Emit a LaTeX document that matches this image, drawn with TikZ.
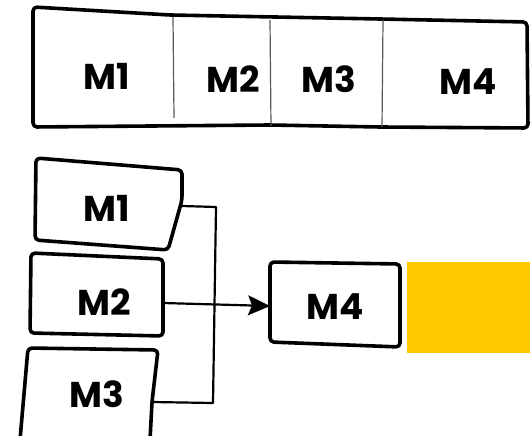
\documentclass[tikz,border=0pt]{standalone}
\usepackage{fontspec}
\setmainfont{Poppins}
\usetikzlibrary{arrows.meta}
\definecolor{gold}{HTML}{FFC800}
\tikzset{
  sketch/.style={draw=black, line width=3.6bp, line join=round, line cap=round, rounded corners=4bp},
  divider/.style={draw=black!65, line width=1.2bp},
  lbl/.style={font=\fontsize{36}{40}\selectfont\bfseries, inner sep=0pt, anchor=center},
  wire/.style={draw=black, line width=2.2bp, line join=round},
}
\begin{document}
\begin{tikzpicture}[x=1bp,y=-1bp]
\useasboundingbox (0,0) rectangle (530,436);
% top bar
\draw[sketch] (33,7) -- (170,15) -- (380,19) -- (527,22) -- (528,128) -- (380,127) -- (270,125) -- (33,127) -- cycle;
\draw[divider] (173,17) -- (174,118);
\draw[divider] (270,20) -- (271,126);
\draw[divider] (383,20) -- (382,127);
\node[lbl] (t1) at (107,76) {M1};
\node[lbl] (t2) at (233,79) {M2};
\node[lbl] (t3) at (329,79) {M3};
\node[lbl] (t4) at (468,82) {M4};
% bottom boxes
\draw[sketch] (36,158) -- (182,170) -- (182,200) -- (168,250) -- (35,240) -- cycle;
\draw[sketch] (31,253) -- (163,259) -- (163,336) -- (30,333) -- cycle;
\draw[sketch] (28,348) -- (158,350) -- (152,402) -- (150,440) -- (20,440) -- cycle;
\draw[sketch] (270,262) -- (400,264) -- (400,347) -- (270,342) -- cycle;
\fill[gold] (407,262) rectangle (530,353);
\node[lbl] (b1) at (107,208) {M1};
\node[lbl] (b2) at (104,302) {M2};
\node[lbl] (b3) at (97,394) {M3};
\node[lbl] (b4) at (335,307) {M4};
% connector ends
\coordinate (m1e) at (182,206);
\coordinate (m2e) at (163,303);
\coordinate (m3e) at (152,402);
\coordinate (m4w) at (270,306);
\coordinate (j1) at (216,207);
\coordinate (j3) at (213,403);
\draw[wire] (m1e) -- (j1) -- (j3) -- (m3e);
\draw[wire, -{Stealth[length=22pt,width=20pt,inset=4pt,fill=black]}] (m2e) -- (m4w);
\end{tikzpicture}
\end{document}
